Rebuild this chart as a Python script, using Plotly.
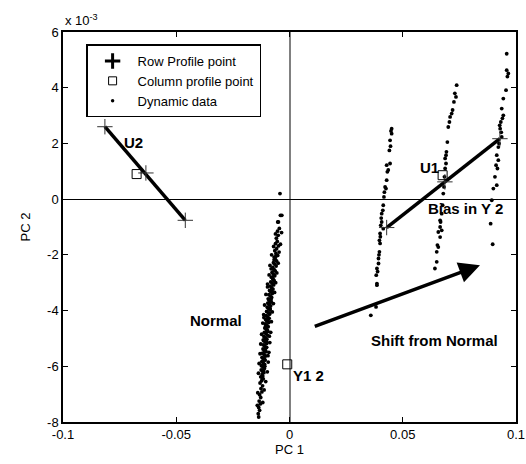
import plotly.graph_objects as go

# ---------------- data (PC1, PC2 in units of 1e-3) ----------------
x_ticks = [-0.1, -0.05, 0, 0.05, 0.1]
x_tick_labels = ["-0.1", "-0.05", "0", "0.05", "0.1"]
y_ticks = [-8, -6, -4, -2, 0, 2, 4, 6]
y_tick_labels = ["-8", "-6", "-4", "-2", "0", "2", "4", "6"]

# Row profile points (the "+" marks)
row_u2_x = [-0.0815, -0.0634, -0.0460]
row_u2_y = [2.60, 0.94, -0.76]
row_u1_x = [0.0429, 0.0686, 0.0929]
row_u1_y = [-1.02, 0.62, 2.17]

# Column profile points (squares)
col_x = [-0.0675, 0.0676, -0.0010]
col_y = [0.90, 0.86, -5.93]

# Dynamic data: normal operation cluster
normal_x = [-0.0042, -0.0040, -0.0052,
    -0.0034, -0.0049, -0.0045, -0.0053, -0.0050, -0.0058, -0.0054, -0.0062, -0.0049, -0.0057,
    -0.0065, -0.0060, -0.0052, -0.0068, -0.0063, -0.0057, -0.0071, -0.0066, -0.0059, -0.0074,
    -0.0069, -0.0063, -0.0077, -0.0071, -0.0065, -0.0080, -0.0074, -0.0068, -0.0083, -0.0076,
    -0.0070, -0.0085, -0.0079, -0.0073, -0.0088, -0.0082, -0.0076, -0.0091, -0.0085, -0.0079,
    -0.0094, -0.0087, -0.0081, -0.0096, -0.0090, -0.0083, -0.0098, -0.0092, -0.0086, -0.0101,
    -0.0094, -0.0088, -0.0103, -0.0096, -0.0090, -0.0105, -0.0099, -0.0092, -0.0107, -0.0100,
    -0.0094, -0.0109, -0.0102, -0.0096, -0.0111, -0.0104, -0.0098, -0.0113, -0.0106, -0.0100,
    -0.0114, -0.0108, -0.0101, -0.0116, -0.0109, -0.0103, -0.0117, -0.0111, -0.0105, -0.0119,
    -0.0112, -0.0106, -0.0121, -0.0114, -0.0108, -0.0122, -0.0116, -0.0110, -0.0124, -0.0117,
    -0.0111, -0.0125, -0.0119, -0.0113, -0.0121, -0.0127, -0.0116, -0.0123, -0.0130, -0.0119,
    -0.0126, -0.0122, -0.0132, -0.0127, -0.0134, -0.0129, -0.0136, -0.0132, -0.0138, -0.0136,
    -0.0060, -0.0067, -0.0072, -0.0078, -0.0084, -0.0089, -0.0093, -0.0097, -0.0102, -0.0105,
    -0.0110, -0.0112, -0.0115, -0.0118, -0.0082, -0.0087, -0.0095, -0.0099, -0.0104, -0.0108,
    -0.0035, -0.0062, -0.0040, -0.0070, -0.0046, -0.0079, -0.0050, -0.0086, -0.0056, -0.0090,
    -0.0061, -0.0097, -0.0066, -0.0104, -0.0071, -0.0110, -0.0076, -0.0114, -0.0080, -0.0118,
    -0.0083, -0.0123, -0.0087, -0.0127, -0.0091, -0.0130, -0.0094, -0.0134, -0.0098, -0.0137,
    -0.0105, -0.0112, -0.0140, -0.0118, -0.0142, -0.0068, -0.0075, -0.0091, -0.0097, -0.0106,
    -0.0101, -0.0116, -0.0109, -0.0121, -0.0081, -0.0089, -0.0113, -0.0119, -0.0095, -0.0086]
normal_y = [0.20, -0.58, -0.82,
    -0.58, -0.82, -1.05, -1.15, -1.30, -1.40, -1.52, -1.60, -1.68, -1.78,
    -1.85, -1.95, -2.02, -2.08, -2.15, -2.22, -2.28, -2.33, -2.40, -2.45,
    -2.52, -2.58, -2.63, -2.70, -2.75, -2.80, -2.86, -2.92, -2.97, -3.02,
    -3.08, -3.12, -3.18, -3.23, -3.28, -3.33, -3.39, -3.43, -3.48, -3.53,
    -3.58, -3.63, -3.68, -3.73, -3.78, -3.83, -3.88, -3.93, -3.98, -4.03,
    -4.08, -4.13, -4.18, -4.23, -4.28, -4.33, -4.38, -4.43, -4.48, -4.53,
    -4.58, -4.63, -4.68, -4.73, -4.78, -4.83, -4.88, -4.93, -4.98, -5.03,
    -5.08, -5.13, -5.18, -5.23, -5.28, -5.33, -5.38, -5.43, -5.48, -5.53,
    -5.58, -5.63, -5.68, -5.73, -5.78, -5.83, -5.88, -5.93, -5.98, -6.03,
    -6.08, -6.13, -6.18, -6.23, -6.30, -6.38, -6.45, -6.52, -6.60, -6.70,
    -6.80, -6.92, -7.02, -7.12, -7.25, -7.35, -7.48, -7.58, -7.70, -7.82,
    -2.05, -2.55, -2.90, -3.30, -3.70, -4.10, -4.40, -4.75, -5.10, -5.45,
    -5.75, -5.95, -6.15, -6.35, -3.60, -3.95, -4.30, -4.70, -5.00, -5.40,
    -1.20, -1.25, -1.62, -1.70, -1.90, -2.00, -2.30, -2.38, -2.65, -2.72,
    -3.00, -3.05, -3.35, -3.42, -3.75, -3.80, -4.05, -4.15, -4.40, -4.45,
    -4.78, -4.85, -5.15, -5.20, -5.50, -5.55, -5.85, -5.90, -6.20, -6.25,
    -6.55, -6.85, -6.95, -7.30, -7.40, -2.18, -2.82, -3.62, -3.15, -4.58,
    -5.32, -5.05, -6.00, -6.40, -2.50, -4.92, -4.25, -5.70, -5.62, -3.92]

# Dynamic data: three faulty strands (bias in Y2)
strand_a_x = [0.0451, 0.0448, 0.0451, 0.0444, 0.0446, 0.0441, 0.0444, 0.0429, 0.0432, 0.0436,
    0.0429, 0.0422, 0.0426, 0.0419, 0.0417, 0.0414, 0.0412, 0.0407, 0.0405, 0.0407,
    0.0403, 0.0414, 0.0400, 0.0401, 0.0397, 0.0400, 0.0397, 0.0395, 0.0393, 0.0393,
    0.0386, 0.0389, 0.0383, 0.0386, 0.0386, 0.0382, 0.0359]
strand_a_y = [2.53, 2.45, 2.35, 2.11, 1.90, 1.75, 1.28, 1.22, 0.98, 1.05,
    0.68, 0.44, 0.38, 0.25, 0.08, -0.22, -0.40, -0.52, -0.68, -0.82,
    -0.94, -1.06, -1.23, -1.35, -1.48, -1.59, -1.89, -2.00, -2.13, -2.31,
    -2.49, -2.60, -2.73, -3.03, -3.09, -3.87, -4.17]
strand_b_x = [0.0738, 0.0730, 0.0735, 0.0726, 0.0720, 0.0716, 0.0709, 0.0706, 0.0701, 0.0697,
    0.0693, 0.0691, 0.0687, 0.0691, 0.0687, 0.0684, 0.0682, 0.0679, 0.0676, 0.0672,
    0.0665, 0.0667, 0.0665, 0.0672, 0.0657, 0.0665, 0.0653, 0.0657, 0.0650, 0.0650,
    0.0642]
strand_b_y = [4.09, 3.80, 3.67, 3.49, 3.20, 3.07, 2.95, 2.77, 2.59, 2.05,
    1.70, 1.58, 1.46, 1.28, 1.10, 0.80, 0.44, 0.20, -0.22, -0.52,
    -0.76, -0.82, -1.00, -1.12, -1.18, -1.36, -1.65, -1.72, -1.89, -2.25,
    -2.49]
strand_c_x = [0.0959, 0.0959, 0.0966, 0.0962, 0.0956, 0.0944, 0.0937, 0.0944, 0.0940, 0.0933,
    0.0928, 0.0930, 0.0935, 0.0937, 0.0925, 0.0922, 0.0915, 0.0922, 0.0912, 0.0918,
    0.0907, 0.0915, 0.0900, 0.0893, 0.0888, 0.0897]
strand_c_y = [5.22, 4.63, 4.51, 4.40, 3.91, 3.61, 3.25, 3.01, 2.90, 2.77,
    2.65, 2.53, 2.40, 2.23, 2.00, 1.87, 1.58, 1.40, 1.22, 1.10,
    0.80, 0.50, 0.38, -0.04, -0.88, -1.62]

# Shift arrow (tail -> head)
shift_tail = (0.0105, -4.59)
shift_head = (0.0841, -2.37)

# Text labels
labels = ["U2", "U1", "Normal", "Shift from Normal", "Bias in Y 2", "Y1 2"]
label_x = [-0.0690, 0.0618, -0.0325, 0.0642, 0.0775, 0.0083]
label_y = [2.05, 1.15, -4.34, -5.06, -0.33, -6.33]

# ---------------- figure ----------------
FONT = "Liberation Sans, Arial, sans-serif"
fig = go.Figure()

dyn_x = normal_x + strand_a_x + strand_b_x + strand_c_x
dyn_y = normal_y + strand_a_y + strand_b_y + strand_c_y

# Thick row-profile lines
for xs, ys in [(row_u2_x, row_u2_y), (row_u1_x, row_u1_y)]:
    fig.add_trace(go.Scatter(x=[xs[0], xs[-1]], y=[ys[0], ys[-1]], mode="lines",
                             line=dict(color="black", width=3.5), showlegend=False,
                             hoverinfo="skip"))

# legend-only entries
fig.add_trace(go.Scatter(x=[None], y=[None], mode="markers", name="Row Profile point",
                         marker=dict(symbol="cross-thin", size=11,
                                     line=dict(color="black", width=3))))
fig.add_trace(go.Scatter(x=[None], y=[None], mode="markers", name="Column profile point",
                         marker=dict(symbol="square-open", size=8, color="black",
                                     line=dict(width=1))))
fig.add_trace(go.Scatter(x=[None], y=[None], mode="markers", name="Dynamic data",
                         marker=dict(symbol="circle", size=3.5, color="black")))

# Dynamic data
fig.add_trace(go.Scatter(x=dyn_x, y=dyn_y, mode="markers", showlegend=False,
                         marker=dict(symbol="circle", size=3.8, color="black")))

# Row profile points
fig.add_trace(go.Scatter(x=row_u2_x + row_u1_x, y=row_u2_y + row_u1_y, mode="markers",
                         showlegend=False,
                         marker=dict(symbol="cross-thin", size=11,
                                     line=dict(color="#333333", width=1))))
# Column profile points
fig.add_trace(go.Scatter(x=col_x, y=col_y, mode="markers", showlegend=False,
                         marker=dict(symbol="square-open", size=9, color="black",
                                     line=dict(width=1))))

# Text labels
for t, lx, ly in zip(labels, label_x, label_y):
    fig.add_annotation(x=lx, y=ly, text="<b>%s</b>" % t, showarrow=False,
                       font=dict(family=FONT, size=15, color="black"))

# Shift arrow
fig.add_annotation(x=shift_head[0], y=shift_head[1], ax=shift_tail[0], ay=shift_tail[1],
                   xref="x", yref="y", axref="x", ayref="y", text="", showarrow=True,
                   arrowhead=2, arrowsize=1.2, arrowwidth=3.5, arrowcolor="black")

# exponent label
fig.add_annotation(x=0, y=1, xref="paper", yref="paper", xanchor="left", yanchor="bottom",
                   text="x 10<sup>-3</sup>", showarrow=False, yshift=2,
                   font=dict(family=FONT, size=13, color="black"))

axis_common = dict(showgrid=False, ticks="inside", ticklen=5, tickcolor="black",
                   showline=True, linecolor="black", linewidth=1.5, mirror="ticks",
                   automargin=False,
                   tickfont=dict(family=FONT, size=13, color="black"))
fig.update_xaxes(range=[-0.1, 0.1], tickvals=x_ticks, ticktext=x_tick_labels,
                 zeroline=True, zerolinecolor="#808080", zerolinewidth=1.5,
                 title=dict(text="PC 1", font=dict(family=FONT, size=13, color="black"),
                            standoff=0),
                 **axis_common)
fig.update_yaxes(range=[-8, 6], tickvals=y_ticks, ticktext=y_tick_labels,
                 zeroline=True, zerolinecolor="black", zerolinewidth=1,
                 title=dict(text="PC 2", font=dict(family=FONT, size=13, color="black"),
                            standoff=14),
                 **axis_common)

fig.update_layout(
    width=526, height=464,
    margin=dict(l=63, r=10, t=32, b=42),
    paper_bgcolor="white", plot_bgcolor="white",
    font=dict(family=FONT, size=13, color="black"),
    showlegend=True,
    legend=dict(x=0.051, y=0.968, xanchor="left", yanchor="top",
                bgcolor="white", bordercolor="black", borderwidth=1.5,
                font=dict(family=FONT, size=13, color="black"),
                itemwidth=40, tracegroupgap=0),
)

fig.write_html("out.html")
